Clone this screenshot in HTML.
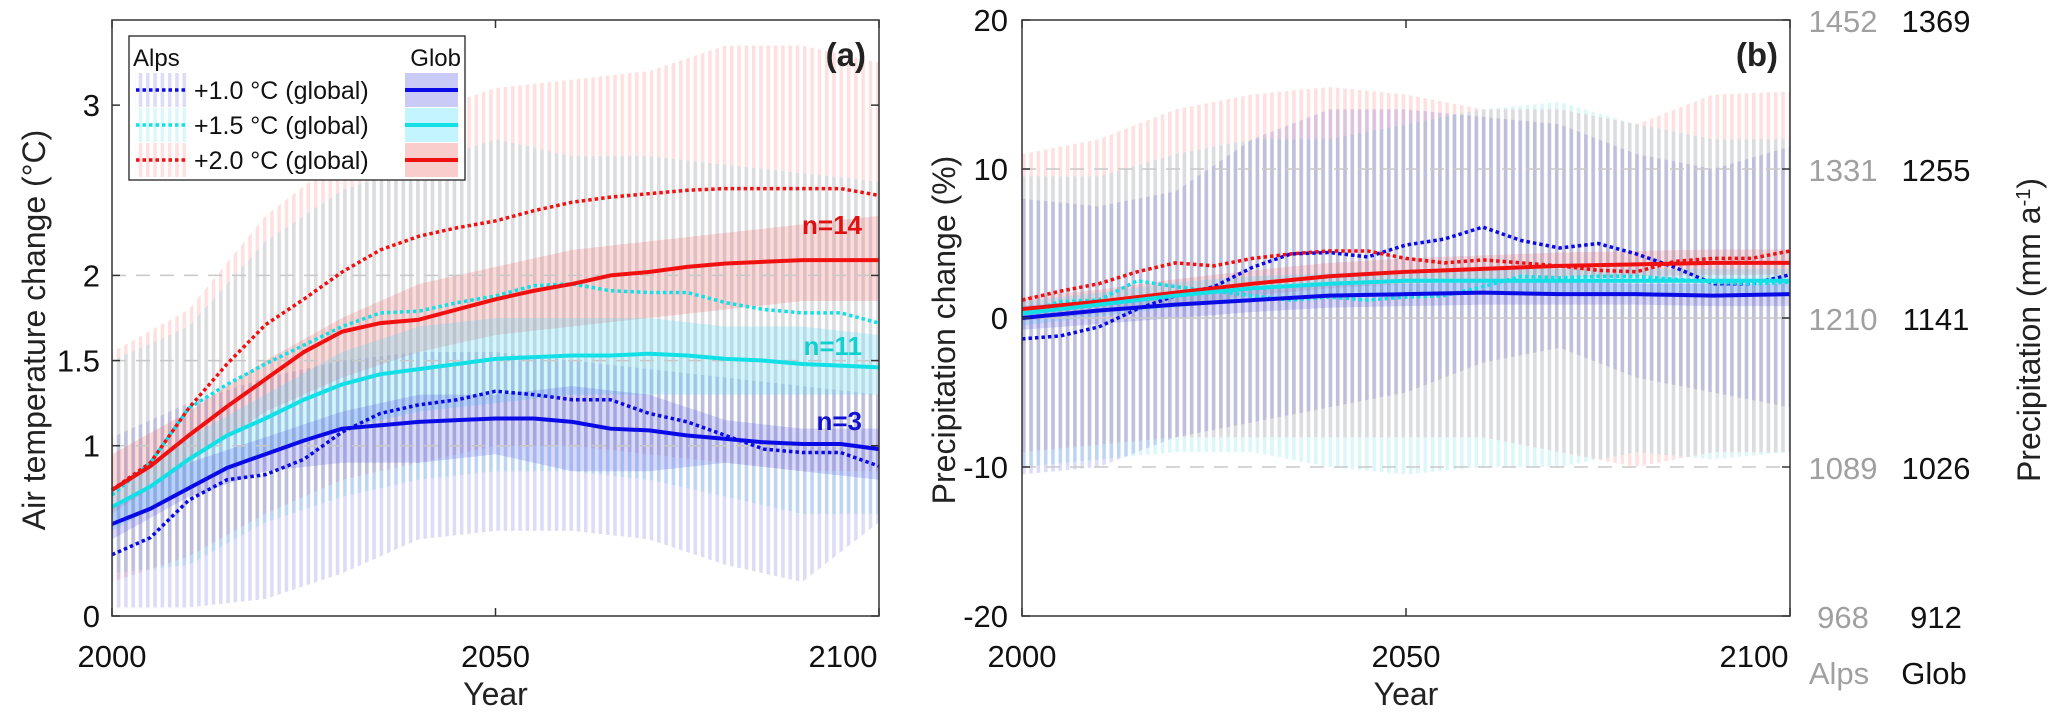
<!DOCTYPE html>
<html><head><meta charset="utf-8"><style>
body{margin:0;background:#fff}
svg text{font-family:"Liberation Sans",Arial,sans-serif}
</style></head><body>
<svg id="chart" width="2067" height="713" viewBox="0 0 2067 713" xmlns="http://www.w3.org/2000/svg">
<defs>
<pattern id="hr" patternUnits="userSpaceOnUse" width="7.3" height="10"><rect x="0" y="0" width="3.6" height="10" fill="rgba(255,60,60,0.16)"/></pattern>
<pattern id="hc" patternUnits="userSpaceOnUse" width="7.3" height="10"><rect x="0" y="0" width="3.6" height="10" fill="rgba(0,200,220,0.14)"/></pattern>
<pattern id="hb" patternUnits="userSpaceOnUse" width="7.3" height="10"><rect x="0" y="0" width="3.6" height="10" fill="rgba(40,40,200,0.16)"/></pattern>
</defs>
<g id="pa"></g>
<g id="pb"></g>
</svg>
<script>
const years=[2000,2005,2010,2015,2020,2025,2030,2035,2040,2045,2050,2055,2060,2065,2070,2075,2080,2085,2090,2095,2100];
const bandYears=[2000,2010,2020,2030,2040,2050,2060,2070,2080,2090,2100];
// Panel a: temperature
const aRedGlob=[0.74,0.88,1.06,1.23,1.39,1.55,1.67,1.72,1.74,1.80,1.86,1.91,1.95,2.0,2.02,2.05,2.07,2.08,2.09,2.09,2.09];
const aRedAlps=[0.74,0.9,1.22,1.48,1.71,1.86,2.02,2.15,2.23,2.28,2.32,2.38,2.43,2.46,2.48,2.50,2.51,2.51,2.51,2.51,2.47];
const aCyanGlob=[0.64,0.76,0.92,1.06,1.16,1.27,1.36,1.42,1.45,1.48,1.51,1.52,1.53,1.53,1.54,1.53,1.51,1.50,1.48,1.47,1.46];
const aCyanAlps=[0.71,0.9,1.22,1.36,1.48,1.59,1.70,1.78,1.79,1.84,1.88,1.94,1.95,1.91,1.90,1.90,1.84,1.80,1.78,1.78,1.72];
const aBlueGlob=[0.54,0.63,0.75,0.87,0.95,1.03,1.10,1.12,1.14,1.15,1.16,1.16,1.14,1.10,1.09,1.06,1.04,1.02,1.01,1.01,0.98];
const aBlueAlps=[0.36,0.46,0.68,0.80,0.83,0.92,1.08,1.19,1.24,1.27,1.32,1.30,1.27,1.27,1.19,1.14,1.06,0.98,0.96,0.96,0.88];
const aRedAlpsHi=[1.55,1.8,2.35,2.7,2.95,3.1,3.15,3.2,3.35,3.35,3.25];
const aRedAlpsLo=[0.2,0.35,0.6,0.8,0.9,1.0,1.0,0.95,0.9,0.85,0.85];
const aCyanAlpsHi=[1.5,1.7,2.2,2.5,2.65,2.8,2.7,2.7,2.65,2.6,2.55];
const aCyanAlpsLo=[0.25,0.3,0.55,0.7,0.8,0.85,0.85,0.8,0.7,0.6,0.6];
const aBlueAlpsHi=[1.05,1.25,1.4,1.5,1.55,1.55,1.5,1.45,1.4,1.35,1.3];
const aBlueAlpsLo=[0.05,0.05,0.1,0.25,0.45,0.5,0.5,0.45,0.3,0.2,0.55];
const aRedGlobLo=[0.6,0.9,1.2,1.4,1.55,1.65,1.7,1.75,1.8,1.85,1.85];
const aRedGlobHi=[0.95,1.2,1.5,1.75,1.95,2.05,2.15,2.2,2.25,2.3,2.35];
const aCyanGlobLo=[0.5,0.75,0.95,1.1,1.2,1.25,1.3,1.3,1.3,1.3,1.3];
const aCyanGlobHi=[0.75,1.05,1.3,1.55,1.7,1.75,1.75,1.75,1.7,1.7,1.65];
const aBlueGlobLo=[0.45,0.7,0.85,0.9,0.9,0.95,0.85,0.85,0.9,0.85,0.8];
const aBlueGlobHi=[0.65,0.9,1.05,1.2,1.3,1.3,1.35,1.3,1.15,1.1,1.1];
const aTicks=[0,1,1.5,2,3];
const aTickLabels=["0","1","1.5","2","3"];
// Panel b: precipitation
const bRedGlob=[0.6,0.85,1.1,1.4,1.7,2.0,2.3,2.55,2.8,2.95,3.1,3.2,3.3,3.4,3.5,3.55,3.6,3.65,3.7,3.7,3.7];
const bRedAlps=[1.2,1.8,2.3,3.1,3.7,3.5,4.0,4.3,4.5,4.5,4.0,3.7,3.9,3.7,3.5,3.2,3.1,3.8,4.0,4.0,4.5];
const bCyanGlob=[0.3,0.6,0.9,1.2,1.5,1.75,2.0,2.15,2.3,2.4,2.5,2.5,2.5,2.5,2.5,2.5,2.5,2.5,2.5,2.5,2.5];
const bCyanAlps=[0.3,1.1,1.2,2.5,2.1,1.8,1.5,1.2,1.4,1.2,1.4,1.5,2.1,2.8,2.7,2.8,2.8,2.6,2.4,2.3,2.4];
const bBlueGlob=[0.0,0.25,0.5,0.7,0.9,1.05,1.2,1.35,1.5,1.55,1.6,1.65,1.7,1.65,1.6,1.6,1.6,1.55,1.5,1.55,1.6];
const bBlueAlps=[-1.4,-1.2,-0.6,0.6,1.5,2.1,3.4,4.3,4.4,4.1,4.9,5.3,6.1,5.2,4.7,5.0,4.3,3.4,2.3,2.3,2.9];
const bRedAlpsHi=[11,12,14,15,15.5,15,14,14,13,15,15.2];
const bRedAlpsLo=[-9,-8.5,-8,-8,-8,-8,-8,-9,-10,-9,-9];
const bCyanAlpsHi=[9.5,9.5,11,12,12,13,14,14.5,13,12,12];
const bCyanAlpsLo=[-10,-9.5,-9,-9,-10,-10.5,-10,-10,-9,-9.5,-9];
const bBlueAlpsHi=[8,7.5,8.5,12,14,14,13.5,13,11,10,11.5];
const bBlueAlpsLo=[-10.5,-10,-8,-7,-6,-5,-3,-2,-4,-5,-6];
const bRedGlobLo=[-0.2,0.3,0.8,1.5,2.0,2.3,2.5,2.7,2.8,2.9,2.9];
const bRedGlobHi=[1.4,1.9,2.6,3.2,3.7,4.0,4.2,4.4,4.5,4.6,4.6];
const bCyanGlobLo=[-0.5,0.1,0.7,1.2,1.5,1.7,1.7,1.7,1.7,1.7,1.7];
const bCyanGlobHi=[1.1,1.7,2.4,2.8,3.0,3.2,3.3,3.3,3.3,3.3,3.3];
const bBlueGlobLo=[-0.8,-0.4,0.0,0.4,0.7,0.8,0.9,0.9,0.9,0.8,0.8];
const bBlueGlobHi=[0.8,1.2,1.6,2.0,2.2,2.3,2.4,2.4,2.3,2.3,2.3];
const bTicks=[-20,-10,0,10,20];
const bTickLabels=["-20","-10","0","10","20"];
const bAlpsLabels=["968","1089","1210","1331","1452"];
const bGlobLabels=["912","1026","1141","1255","1369"];
const xTicks=[2000,2050,2100];

const NS="http://www.w3.org/2000/svg";
function mk(parent,tag,attrs,txt){const e=document.createElementNS(NS,tag);for(const k in attrs)e.setAttribute(k,attrs[k]);if(txt!==undefined)e.textContent=txt;parent.appendChild(e);return e;}

function panel(g,L,R,T,B,ymin,ymax){
  const x=v=>L+(v-2000)/100*(R-L);
  const y=v=>B-(v-ymin)/(ymax-ymin)*(B-T);
  return {x,y,L,R,T,B,g};
}
function band(P,xs,lo,hi,fill,name){
  let d="M"+xs.map((v,i)=>P.x(v)+","+P.y(hi[i])).join("L");
  for(let i=xs.length-1;i>=0;i--)d+="L"+P.x(xs[i])+","+P.y(lo[i]);
  const p=mk(P.g,"path",{d:d+"Z",fill:fill});
  
  
}
function line(P,xs,vals,color,dotted,name){
  const d="M"+xs.map((v,i)=>P.x(v)+","+P.y(vals[i])).join("L");
  const a={d:d,fill:"none",stroke:color,"stroke-width":dotted?3.5:4,"stroke-linejoin":"round"};
  if(dotted)a["stroke-dasharray"]="3.5 3";
  const p=mk(P.g,"path",a);
  
  
}
function frame(P){
  const r=mk(P.g,"rect",{x:P.L,y:P.T,width:P.R-P.L,height:P.B-P.T,fill:"none",stroke:"#333","stroke-width":1.5});
  
  
  xTicks.forEach((t,i)=>{
    mk(P.g,"line",{x1:P.x(t),x2:P.x(t),y1:P.B,y2:P.B-8,stroke:"#333","stroke-width":1.5});
    mk(P.g,"line",{x1:P.x(t),x2:P.x(t),y1:P.T,y2:P.T+8,stroke:"#333","stroke-width":1.5});
    let tx=P.x(t); if(i===2) tx-=36; if(i===0&&P.L>500)tx+=0;
    const el=mk(P.g,"text",{x:tx,y:667,"text-anchor":"middle","font-size":31,fill:"#111"},String(t));
    
    
  });
  const yl=mk(P.g,"text",{x:(P.L+P.R)/2,y:705,"text-anchor":"middle","font-size":32,fill:"#222"},"Year");
  
  
}
function gridY(P,v,solid){
  mk(P.g,"line",{x1:P.L,x2:P.R,y1:P.y(v),y2:P.y(v),stroke:"#c8c8c8","stroke-width":1.5,"stroke-dasharray":solid?"none":"14 10"});
}

// ---- Panel A
const A=panel(document.getElementById("pa"),112,879,20,616,0,3.5);
band(A,bandYears,aRedAlpsLo,aRedAlpsHi,"url(#hr)","band-alps-2p0");
band(A,bandYears,aCyanAlpsLo,aCyanAlpsHi,"url(#hc)","band-alps-1p5");
band(A,bandYears,aBlueAlpsLo,aBlueAlpsHi,"url(#hb)","band-alps-1p0");
band(A,bandYears,aRedGlobLo,aRedGlobHi,"rgba(240,90,90,0.22)","band-glob-2p0");
band(A,bandYears,aCyanGlobLo,aCyanGlobHi,"rgba(60,220,255,0.22)","band-glob-1p5");
band(A,bandYears,aBlueGlobLo,aBlueGlobHi,"rgba(80,80,230,0.22)","band-glob-1p0");
[1,1.5,2].forEach(v=>gridY(A,v,false));
line(A,years,aBlueAlps,"#0a0ae6",true,"line-alps-1p0");
line(A,years,aCyanAlps,"#12e0e6",true,"line-alps-1p5");
line(A,years,aRedAlps,"#f01010",true,"line-alps-2p0");
line(A,years,aBlueGlob,"#0a0ae6",false,"line-glob-1p0");
line(A,years,aCyanGlob,"#12e0e6",false,"line-glob-1p5");
line(A,years,aRedGlob,"#f01010",false,"line-glob-2p0");
frame(A);
aTicks.forEach((t,i)=>{
  mk(A.g,"line",{x1:A.L,x2:A.L+8,y1:A.y(t),y2:A.y(t),stroke:"#333","stroke-width":1.5});
  mk(A.g,"line",{x1:A.R,x2:A.R-8,y1:A.y(t),y2:A.y(t),stroke:"#333","stroke-width":1.5});
  const el=mk(A.g,"text",{x:A.L-12,y:A.y(t)+11,"text-anchor":"end","font-size":31,fill:"#111"},aTickLabels[i]);
  
  
});
{const el=mk(A.g,"text",{x:45,y:330,"text-anchor":"middle","font-size":32,fill:"#222",transform:"rotate(-90 45 330)"},"Air temperature change (°C)");
}
{const el=mk(A.g,"text",{x:866,y:66,"text-anchor":"end","font-size":33,"font-weight":"bold",fill:"#222"},"(a)");
}
[["n=14",225,"#e01010"],["n=11",346,"#10d0d0"],["n=3",421,"#1010d0"]].forEach(n=>{
  const el=mk(A.g,"text",{x:862,y:n[1]+9,"text-anchor":"end","font-size":26,"font-weight":"bold",fill:n[2]},n[0]);
  
});
// legend
{const lg=mk(A.g,"g",{});

mk(lg,"rect",{x:129,y:36,width:336,height:144,fill:"#fff",stroke:"#222","stroke-width":1.3});
mk(lg,"text",{x:133,y:66,"font-size":24,fill:"#111"},"Alps");
mk(lg,"text",{x:461,y:66,"text-anchor":"end","font-size":24,fill:"#111"},"Glob");
const rows=[["+1.0 °C (global)","#0a0ae6","url(#hb)","rgba(80,80,230,0.3)"],["+1.5 °C (global)","#12e0e6","url(#hc)","rgba(60,220,255,0.3)"],["+2.0 °C (global)","#f01010","url(#hr)","rgba(240,90,90,0.3)"]];
rows.forEach((r,i)=>{const cy=90+i*35;
 const e=mk(lg,"g",{});
 mk(e,"rect",{x:135,y:cy-17,width:53,height:34,fill:r[2]});
 mk(e,"line",{x1:136,x2:188,y1:cy,y2:cy,stroke:r[1],"stroke-width":3.5,"stroke-dasharray":"3.5 3"});
 mk(e,"text",{x:194,y:cy+9,"font-size":25,fill:"#111"},r[0]);
 mk(e,"rect",{x:405,y:cy-17,width:53,height:34,fill:r[3]});
 mk(e,"line",{x1:405,x2:458,y1:cy,y2:cy,stroke:r[1],"stroke-width":4});
});}

// ---- Panel B
const Bp=panel(document.getElementById("pb"),1022,1790,20,616,-20,20);
band(Bp,bandYears,bRedAlpsLo,bRedAlpsHi,"url(#hr)","band-alps-2p0");
band(Bp,bandYears,bCyanAlpsLo,bCyanAlpsHi,"url(#hc)","band-alps-1p5");
band(Bp,bandYears,bBlueAlpsLo,bBlueAlpsHi,"url(#hb)","band-alps-1p0");
band(Bp,bandYears,bRedGlobLo,bRedGlobHi,"rgba(240,90,90,0.2)","band-glob-2p0");
band(Bp,bandYears,bCyanGlobLo,bCyanGlobHi,"rgba(60,220,255,0.2)","band-glob-1p5");
band(Bp,bandYears,bBlueGlobLo,bBlueGlobHi,"rgba(80,80,230,0.2)","band-glob-1p0");
gridY(Bp,10,false);gridY(Bp,0,true);gridY(Bp,-10,false);
line(Bp,years,bBlueAlps,"#0a0ae6",true,"line-alps-1p0");
line(Bp,years,bCyanAlps,"#12e0e6",true,"line-alps-1p5");
line(Bp,years,bRedAlps,"#f01010",true,"line-alps-2p0");
line(Bp,years,bBlueGlob,"#0a0ae6",false,"line-glob-1p0");
line(Bp,years,bRedGlob,"#f01010",false,"line-glob-2p0");
line(Bp,years,bCyanGlob,"#12e0e6",false,"line-glob-1p5");
frame(Bp);
bTicks.forEach((t,i)=>{
  mk(Bp.g,"line",{x1:Bp.L,x2:Bp.L+8,y1:Bp.y(t),y2:Bp.y(t),stroke:"#333","stroke-width":1.5});
  mk(Bp.g,"line",{x1:Bp.R,x2:Bp.R-8,y1:Bp.y(t),y2:Bp.y(t),stroke:"#333","stroke-width":1.5});
  let el=mk(Bp.g,"text",{x:1008,y:Bp.y(t)+11,"text-anchor":"end","font-size":31,fill:"#111"},bTickLabels[i]);
  
  el=mk(Bp.g,"text",{x:1843,y:Bp.y(t)+12,"text-anchor":"middle","font-size":31,fill:"#a0a0a0"},bAlpsLabels[i]);
  
  el=mk(Bp.g,"text",{x:1936,y:Bp.y(t)+12,"text-anchor":"middle","font-size":31,fill:"#111"},bGlobLabels[i]);
  
});
{let el=mk(Bp.g,"text",{x:1839,y:684,"text-anchor":"middle","font-size":31,fill:"#a0a0a0"},"Alps");

el=mk(Bp.g,"text",{x:1934,y:684,"text-anchor":"middle","font-size":31,fill:"#111"},"Glob");

el=mk(Bp.g,"text",{x:955,y:330,"text-anchor":"middle","font-size":32,fill:"#222",transform:"rotate(-90 955 330)"},"Precipitation change (%)");

el=mk(Bp.g,"text",{x:2040,y:330,"text-anchor":"middle","font-size":32,fill:"#222",transform:"rotate(-90 2040 330)"});
el.innerHTML='Precipitation (mm a<tspan dy="-10" font-size="20">-1</tspan><tspan dy="10">)</tspan>';

el=mk(Bp.g,"text",{x:1778,y:66,"text-anchor":"end","font-size":33,"font-weight":"bold",fill:"#222"},"(b)");
}
</script>
</body></html>
